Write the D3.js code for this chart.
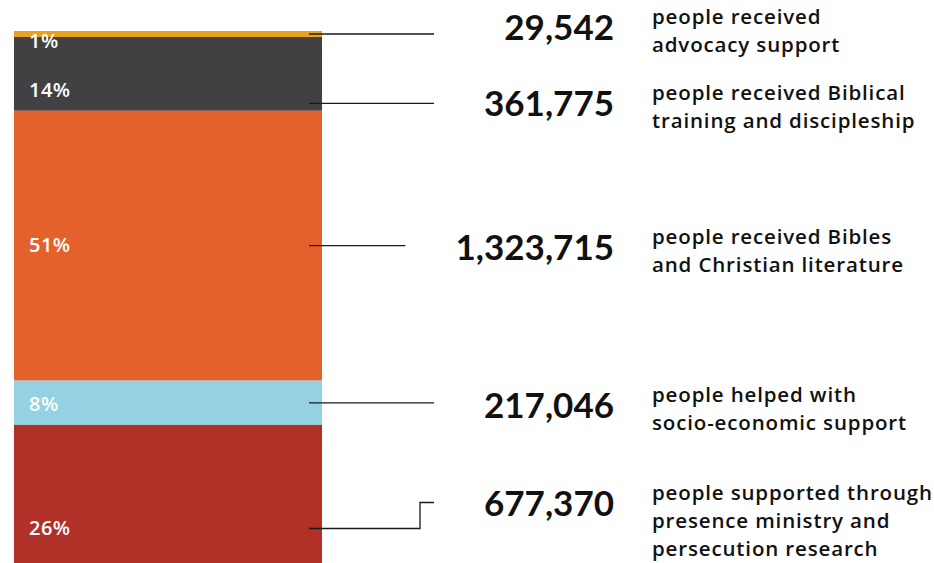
<!DOCTYPE html>
<html>
<head>
  <meta charset="UTF-8" />
  <script src="https://d3js.org/d3.v7.min.js"></script>
  <style>
    body { margin: 0; background: #fff; }
    text { font-family: Lato, "Open Sans", sans-serif; }
    text.desc, text.pct { font-family: "Open Sans", Lato, sans-serif; }
  </style>
</head>
<body>
  <script>
    // data, top of the bar to the bottom
    var categories = ["advocacy", "biblical", "bibles", "socio", "presence"];
    var people = [29542, 361775, 1323715, 217046, 677370];
    var descriptions = [
      ["people received", "advocacy support"],
      ["people received Biblical", "training and discipleship"],
      ["people received Bibles", "and Christian literature"],
      ["people helped with", "socio-economic support"],
      ["people supported through", "presence ministry and", "persecution research"]
    ];

    // layout / style
    var colors = ["#e9a21f", "#414143", "#e4612c", "#94d1e2", "#b13128"];
    var anchorFrac = [0.5, 0.9, 0.5, 0.5, 0.75];   // where the leader line leaves the segment
    var pctDy = [14, -6, 6, 8, 7];                 // percent label baseline vs leader line
    var elbowDy = [0, 0, 0, 0, -26];               // leader line bend for last item
    var numDy = [6, 13, 14, 15, 14];               // number baseline vs leader end

    var width = 934, height = 563;
    var barX0 = 14, barX1 = 322;

    var svg = d3.select("body").append("svg")
      .attr("width", width)
      .attr("height", height);

    var total = d3.sum(people);
    var y = d3.scaleLinear().domain([0, total]).range([31, 563]);
    var pct = d3.format(".0%");

    // stacked segments
    var rows = people.map(function (v, i) {
      var start = d3.sum(people.slice(0, i));
      return { key: categories[i], value: v, y0: start, y1: start + v, i: i };
    });

    svg.selectAll("rect.seg")
      .data(rows)
      .enter().append("rect")
      .attr("class", "seg")
      .attr("x", barX0)
      .attr("width", barX1 - barX0)
      .attr("y", function (d) { return y(d.y0); })
      .attr("height", function (d) { return y(d.y1) - y(d.y0); })
      .attr("fill", function (d) { return colors[d.i]; });

    rows.forEach(function (d) {
      d.ay = y(d.y0) + (y(d.y1) - y(d.y0)) * anchorFrac[d.i];
      d.ey = d.ay + elbowDy[d.i];
    });

    // percent labels
    svg.selectAll("text.pct")
      .data(rows)
      .enter().append("text")
      .attr("class", "pct")
      .attr("x", 29)
      .attr("y", function (d) { return d.ay + pctDy[d.i]; })
      .attr("fill", "#fff")
      .attr("font-size", 20)
      .attr("font-weight", 600)
      .attr("letter-spacing", 0.5)
      .text(function (d) { return pct(d.value / total); });

    // big numbers
    var numRight = 614;
    var nums = svg.selectAll("text.num")
      .data(rows)
      .enter().append("text")
      .attr("class", "num")
      .attr("x", numRight)
      .attr("y", function (d) { return d.ey + numDy[d.i]; })
      .attr("text-anchor", "end")
      .attr("fill", "#111")
      .attr("font-size", 35)
      .attr("font-weight", 700)
      .text(function (d) { return d3.format(",")(d.value); });

    nums.each(function (d) {
      d.numLeft = numRight - this.getComputedTextLength();
    });

    // leader lines
    svg.selectAll("path.leader")
      .data(rows)
      .enter().append("path")
      .attr("class", "leader")
      .attr("fill", "none")
      .attr("stroke", "#1a1a1a")
      .attr("stroke-width", 1.3)
      .attr("d", function (d) {
        var xEnd = Math.min(434, d.numLeft - 50);
        if (d.ey !== d.ay) {
          var xb = 420;
          return "M" + 309 + "," + d.ay + "H" + xb + "V" + d.ey + "H" + xEnd;
        }
        return "M" + 309 + "," + d.ay + "H" + xEnd;
      });

    // descriptions
    var desc = svg.selectAll("text.desc")
      .data(rows)
      .enter().append("text")
      .attr("class", "desc")
      .attr("x", 652)
      .attr("y", function (d) { return d.ey + numDy[d.i] - 16; })
      .attr("fill", "#111")
      .attr("font-size", 20.5)
      .attr("font-weight", 600)
      .attr("letter-spacing", 0.85);

    desc.selectAll("tspan")
      .data(function (d) { return descriptions[d.i]; })
      .enter().append("tspan")
      .attr("x", 652)
      .attr("dy", function (t, j) { return j === 0 ? 0 : 28; })
      .text(function (t) { return t; });
  </script>
</body>
</html>
